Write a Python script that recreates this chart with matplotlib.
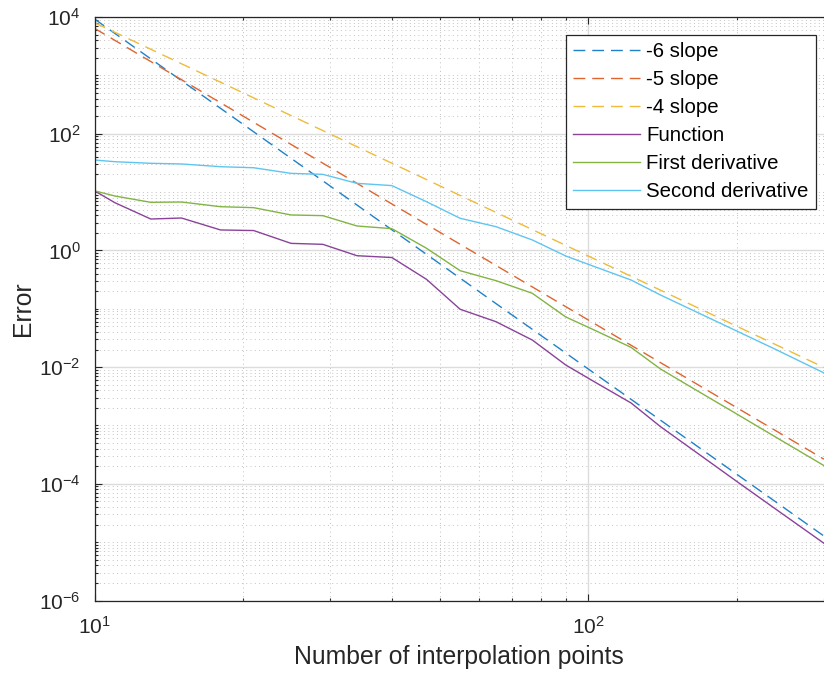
import matplotlib
matplotlib.use('Agg')
import matplotlib.pyplot as plt
import numpy as np
from matplotlib.ticker import LogLocator, FixedLocator, FuncFormatter, NullFormatter

plt.rcParams['font.family'] = ['Liberation Sans', 'DejaVu Sans']
plt.rcParams['mathtext.fontset'] = 'custom'
plt.rcParams['mathtext.rm'] = 'Liberation Sans'
plt.rcParams['lines.scale_dashes'] = False

# ---- data ----
n_points = [10, 11, 13, 15, 18, 21, 25, 29, 34, 40, 47, 55, 65, 77, 90, 103,
            122, 140, 165, 200, 240, 300]
err_function = [10.5, 6.56, 3.45, 3.59, 2.24, 2.19, 1.32, 1.27, 0.811, 0.755,
                0.320, 0.098, 0.060, 0.0291, 0.01086, 0.00556, 0.00243,
                9.53e-4, 3.51e-4, 1.09e-4, 3.64e-5, 9.55e-6]
err_first = [10.5, 8.55, 6.67, 6.75, 5.61, 5.40, 4.05, 3.94, 2.62, 2.36, 1.09,
             0.449, 0.303, 0.184, 0.0723, 0.0428, 0.0218, 0.00927, 0.00407,
             0.00156, 6.25e-4, 2.05e-4]
err_second = [35.4, 33.1, 31.1, 30.3, 27.2, 26.1, 20.9, 20.1, 14.1, 12.9, 6.84,
              3.55, 2.55, 1.51, 0.802, 0.526, 0.311, 0.172, 0.0891, 0.0413,
              0.0199, 0.00794]

slope_x = [10, 300]
slope6 = [9.25e3, 1.27e-5]
slope5 = [6.4e3, 2.64e-4]
slope4 = [8.0e3, 9.86e-3]

y_ticks = [1e-6, 1e-4, 1e-2, 1e0, 1e2, 1e4]
x_ticks = [10, 100]

labels = ['-6 slope', '-5 slope', '-4 slope', 'Function', 'First derivative',
          'Second derivative']
colors = ['#1f82c8', '#de6530', '#efbb38', '#8a429a', '#82b444', '#5fc5f0']

# ---- figure ----
W, H = 824, 678
fig = plt.figure(figsize=(W / 100, H / 100), dpi=100)
ax = fig.add_axes([94.5 / W, 1 - 600.5 / H, 729.5 / W, 583.5 / H])

dash = (8.5, 5.0)
lw = 1.0
ax.plot(slope_x, slope6, color=colors[0], lw=lw, dashes=dash, label=labels[0])
ax.plot(slope_x, slope5, color=colors[1], lw=lw, dashes=dash, label=labels[1])
ax.plot(slope_x, slope4, color=colors[2], lw=lw, dashes=dash, label=labels[2])
ax.plot(n_points, err_function, color=colors[3], lw=lw, label=labels[3])
ax.plot(n_points, err_first, color=colors[4], lw=lw, label=labels[4])
ax.plot(n_points, err_second, color=colors[5], lw=lw, label=labels[5])

ax.set_xscale('log')
ax.set_yscale('log')
ax.set_xlim(10, 300)
ax.set_ylim(1e-6, 1e4)

tc = '#262626'
fmt = FuncFormatter(lambda v, p: r'$\mathdefault{10^{%d}}$' % int(round(np.log10(v))))
ax.xaxis.set_major_locator(FixedLocator(x_ticks))
ax.yaxis.set_major_locator(FixedLocator(y_ticks))
ax.xaxis.set_minor_locator(LogLocator(base=10, subs=np.arange(1, 10), numticks=100))
ax.yaxis.set_minor_locator(LogLocator(base=10, subs=np.arange(1, 10), numticks=100))
ax.xaxis.set_major_formatter(fmt)
ax.yaxis.set_major_formatter(fmt)
ax.xaxis.set_minor_formatter(NullFormatter())
ax.yaxis.set_minor_formatter(NullFormatter())

ax.tick_params(which='both', direction='in', top=True, right=False,
               color=tc, labelcolor=tc, labelsize=15, width=0.8)
ax.tick_params(which='major', length=5)
ax.tick_params(which='minor', length=2.5)
ax.tick_params(axis='x', which='major', pad=11)
ax.tick_params(axis='y', which='major', pad=10)

ax.set_axisbelow(True)
ax.grid(which='major', color='#dcdcdc', lw=1.0, ls='-')
ax.grid(which='minor', color='#c2c2c2', lw=0.7, dashes=(0.7, 2.4))

for s in ['left', 'bottom', 'top']:
    ax.spines[s].set_color(tc)
    ax.spines[s].set_linewidth(0.9)
ax.spines['right'].set_visible(False)

ax.set_xlabel('Number of interpolation points', fontsize=17.8, color=tc, labelpad=5)
ax.set_ylabel('Error', fontsize=17.8, color=tc, labelpad=3)

leg = ax.legend(loc='upper right', bbox_to_anchor=((816 - 94.5) / 729.5, 1 - (35.3 - 17) / 583.5),
                borderaxespad=0, fontsize=14.7, handlelength=3.3, handletextpad=0.3,
                labelspacing=0.44, borderpad=0.35, fancybox=False, framealpha=1)
leg.get_frame().set_edgecolor('#262626')
leg.get_frame().set_linewidth(0.9)

fig.savefig('out.png', dpi=100)
